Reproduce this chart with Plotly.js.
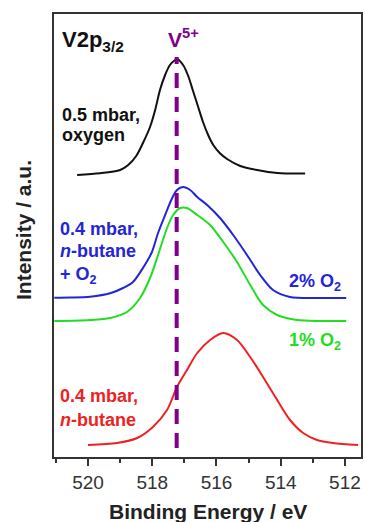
<!DOCTYPE html>
<html>
<head>
<meta charset="utf-8">
<script src="https://cdn.plot.ly/plotly-3.0.1.min.js"></script>
<style>html,body{margin:0;padding:0;background:#fff;}#chart{width:365px;height:522px;}</style>
</head>
<body>
<div id="chart"></div>
<script>
// ---- Data (binding energy in eV, intensity in arbitrary units with offsets) ----
const energyOxygen = [520.34, 519.63, 519.00, 518.75, 518.50, 518.29, 518.07, 517.91, 517.76, 517.60, 517.45, 517.29, 517.23, 517.04, 516.88, 516.73, 516.57, 516.42, 516.26, 516.10, 515.90, 515.67, 515.26, 514.74, 514.11, 513.24];
const intensityOxygen = [282, 283.7, 287, 292, 301, 314, 330, 347, 367, 382, 392, 397, 398, 392, 381, 366, 350, 335, 322, 312, 304, 298, 291, 287, 284, 283.5];

const energyButaneO2_2 = [521.05, 520.56, 519.94, 519.31, 518.91, 518.60, 518.29, 518.01, 517.82, 517.60, 517.38, 517.23, 517.04, 516.82, 516.60, 516.29, 515.89, 515.48, 515.05, 514.64, 514.24, 513.71, 512.77, 511.96];
const intensityButaneO2_2 = [159.3, 159.5, 160.3, 163.7, 169, 175, 189, 205, 224, 242, 259, 267, 270, 267, 260, 252, 239, 222, 202, 182, 167, 160, 159, 159];

const energyButaneO2_1 = [521.05, 519.94, 519.31, 518.79, 518.38, 518.07, 517.82, 517.54, 517.35, 517.13, 516.92, 516.60, 516.20, 515.79, 515.36, 514.95, 514.55, 514.11, 513.49, 512.77, 511.96];
const intensityButaneO2_1 = [136, 137, 139, 145, 159, 179, 202, 229, 242, 249, 249, 242, 232, 215, 195, 172, 152, 142, 137, 136, 136];

const energyButane = [520.00, 519.10, 518.47, 517.98, 517.54, 517.23, 516.92, 516.60, 516.20, 515.79, 515.36, 514.95, 514.55, 514.11, 513.71, 513.30, 512.87, 512.37, 511.59];
const intensityButane = [12, 14, 19, 30, 47, 70, 87, 104, 117, 124, 117, 100, 80, 57, 37, 24, 17, 14, 12];

const v5Energy = 517.24;
const v5LineIntensity = [9, 400];
const tickValues = [512, 514, 516, 518, 520];
const tickLabels = ['512', '514', '516', '518', '520'];
const xRange = [521.06, 511.5];
const yRange = [0, 443];

// ---- Styling helpers (pixel -> paper) ----
const PL = 54, PR = 361, PT = 14, PB = 457;
const px = x => (x - PL) / (PR - PL);
const py = y => (PB - y) / (PB - PT);
const FONT = '"Liberation Sans", Arial, sans-serif';

const cBlack = '#111111', cBlue = '#2424d8', cGreen = '#22dd22', cRed = '#ee2222', cPurple = '#800088';

function tr(x, y, color) {
  return {x: x, y: y, type: 'scatter', mode: 'lines',
    line: {color: color, width: 2, shape: 'spline', smoothing: 0.8},
    hoverinfo: 'skip', showlegend: false};
}

const data = [
  tr(energyOxygen, intensityOxygen, cBlack),
  tr(energyButaneO2_2, intensityButaneO2_2, cBlue),
  tr(energyButaneO2_1, intensityButaneO2_1, cGreen),
  tr(energyButane, intensityButane, cRed)
];

function ann(text, x, y, color, size, xanchor, extra) {
  return Object.assign({text: text, xref: 'paper', yref: 'paper', x: px(x), y: py(y),
    xanchor: xanchor || 'left', yanchor: 'middle', showarrow: false, align: 'left',
    font: {family: FONT, size: size, color: color, weight: 'bold'}}, extra || {});
}

const annotations = [
  ann('V2p<sub>3/2</sub>', 60, 41, '#111', 22),
  ann('V<sup>5+</sup>', 166, 38, cPurple, 21),
  ann('0.5 mbar,', 60, 115, '#111', 18),
  ann('oxygen', 60, 135, '#111', 18),
  ann('0.4 mbar,', 58, 229, cBlue, 18),
  ann('<i>n</i>-butane', 58, 251, cBlue, 18),
  ann('+ O<sub>2</sub>', 58, 275, cBlue, 18),
  ann('2% O<sub>2</sub>', 343, 282, cBlue, 18, 'right'),
  ann('1% O<sub>2</sub>', 343, 341, cGreen, 18, 'right'),
  ann('0.4 mbar,', 58, 396, cRed, 18),
  ann('<i>n</i>-butane', 58, 420, cRed, 18),
  ann('Binding Energy / eV', 208, 512, '#222', 21, 'center'),
  ann('Intensity / a.u.', 24, 230, '#222', 21, 'center', {textangle: -90})
];

const layout = {
  width: 365, height: 522,
  margin: {l: PL, r: 365 - PR, t: PT, b: 522 - PB, pad: 0},
  paper_bgcolor: '#fff', plot_bgcolor: '#fff',
  showlegend: false,
  xaxis: {
    range: xRange, showgrid: false, zeroline: false,
    showline: true, mirror: true, linecolor: '#333', linewidth: 2,
    tickmode: 'array', tickvals: tickValues, ticktext: tickLabels,
    ticks: 'outside', ticklen: 7, tickwidth: 2, tickcolor: '#333',
    minor: {dtick: 1, tick0: 512, ticks: 'outside', ticklen: 4, tickwidth: 2, tickcolor: '#333', showgrid: false},
    tickfont: {family: FONT, size: 19, color: '#333'},
    title: {text: ''}
  },
  yaxis: {
    range: yRange, showgrid: false, zeroline: false,
    showline: true, mirror: true, linecolor: '#333', linewidth: 2,
    showticklabels: false, ticks: '',
    title: {text: ''}
  },
  shapes: [{
    type: 'line', xref: 'x', yref: 'y',
    x0: v5Energy, x1: v5Energy, y0: v5LineIntensity[0], y1: v5LineIntensity[1],
    line: {color: cPurple, width: 4, dash: '15px,9px'}
  }],
  annotations: annotations
};

Plotly.newPlot('chart', data, layout, {staticPlot: true, displayModeBar: false});
</script>
</body>
</html>
